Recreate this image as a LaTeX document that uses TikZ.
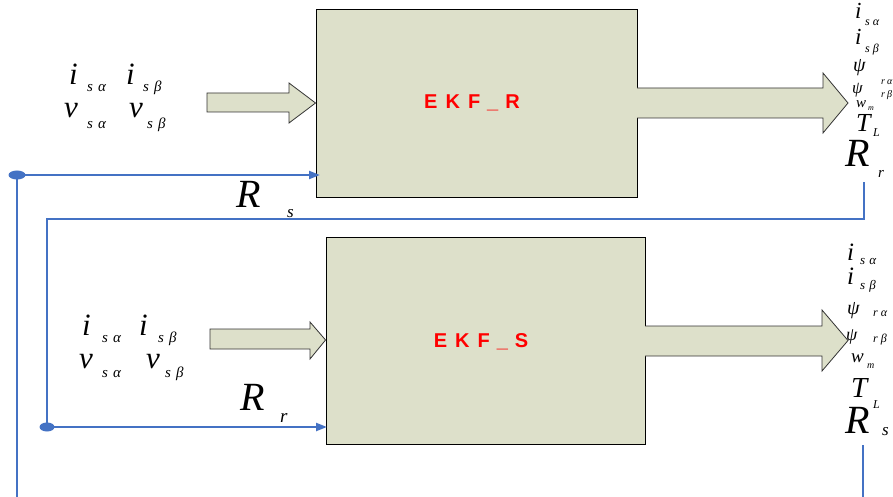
\documentclass[tikz,border=0pt]{standalone}
\usepackage{fontspec}
\setmainfont{Liberation Serif}
\newfontfamily\ekffont{Liberation Sans}
\usetikzlibrary{arrows.meta}
\newcommand{\fsz}[1]{\fontsize{#1}{#1}\selectfont\itshape}
\definecolor{boxfill}{RGB}{221,224,202}
\definecolor{linkblue}{RGB}{68,114,196}
\definecolor{ekfred}{RGB}{255,0,0}
\tikzset{
  lbl/.style={inner sep=0pt, anchor=base west},
  ekfbox/.style={draw=black, line width=0.9pt, fill=boxfill, inner sep=0pt},
  blockarrow/.style={fill=boxfill},
  blockedge/.style={draw=black!80, line width=0.8pt, line join=miter},
  link/.style={draw=linkblue, line width=2.2pt},
  linkarrow/.style={link, -{Triangle[length=11pt,width=8pt]}},
  ekftext/.style={text=ekfred, font={\ekffont\bfseries\fontsize{20}{20}\selectfont}, inner sep=0pt, anchor=base}
}
\begin{document}
\begin{tikzpicture}[x=1pt,y=-1pt]
\useasboundingbox (0,0) rectangle (893,497);
% boxes
\node[ekfbox, minimum width=321pt, minimum height=188pt] (boxR) at (476.5,103) {};
\node[ekfbox, minimum width=319pt, minimum height=207pt] (boxS) at (485.5,340.5) {};
\node[ekftext] (tR) at (472,109) {E\hspace{8pt}K\hspace{8pt}F\hspace{7pt}\_\hspace{7pt}R};
\node[ekftext] (tS) at (481,347) {E\hspace{8pt}K\hspace{8pt}F\hspace{7pt}\_\hspace{7pt}S};
% block arrows: top input
\filldraw[blockarrow, blockedge] (207,93) -- (289,93) -- (289,83) -- (boxR.west |- 0,103) -- (289,123) -- (289,112) -- (207,112) -- cycle;
% top output
\fill[blockarrow] (636,88) -- (823,88) -- (823,73) -- (848,103) -- (823,133) -- (823,118) -- (636,118) -- cycle;
\draw[blockedge] (637,88) -- (823,88) -- (823,73) -- (848,103) -- (823,133) -- (823,118) -- (637,118);
% bottom input
\filldraw[blockarrow, blockedge] (210,329) -- (310,329) -- (310,322) -- (boxS.west |- 0,340) -- (310,359) -- (310,349) -- (210,349) -- cycle;
% bottom output
\fill[blockarrow] (644,326) -- (822,326) -- (822,310) -- (848,340.5) -- (822,371) -- (822,356) -- (644,356) -- cycle;
\draw[blockedge] (645,326) -- (822,326) -- (822,310) -- (848,340.5) -- (822,371) -- (822,356) -- (645,356);
% blue links
\coordinate (dot1) at (17,175);
\coordinate (low1) at (17,497);
\coordinate (endR) at (320,175);
\coordinate (rtop) at (864,182);
\coordinate (rturn) at (864,219);
\coordinate (lturn) at (47,219);
\coordinate (dot2) at (47,427);
\coordinate (endS) at (327,427);
\coordinate (rbot1) at (863,445);
\coordinate (rbot2) at (863,497);
\draw[link] (low1) -- (dot1);
\draw[linkarrow] (dot1) -- (endR);
\draw[link, line join=miter] (rtop) -- (rturn) -- (lturn) -- (dot2);
\draw[linkarrow] (dot2) -- (endS);
\draw[link] (rbot1) -- (rbot2);
\fill[linkblue] (dot1) ellipse (8.5pt and 4.5pt);
\fill[linkblue] (dot2) ellipse (7.5pt and 4.5pt);
% top inputs
\node[lbl, font={\fsz{31}}] (a1) at (69,85) {i};
\node[lbl, font={\fsz{15}}] (a2) at (87,92) {s\hspace{5pt}α};
\node[lbl, font={\fsz{31}}] (a3) at (126,85) {i};
\node[lbl, font={\fsz{15}}] (a4) at (143,92) {s\hspace{5pt}β};
\node[lbl, font={\fsz{31}}] (a5) at (64,118) {v};
\node[lbl, font={\fsz{15}}] (a6) at (87,129) {s\hspace{5pt}α};
\node[lbl, font={\fsz{31}}] (a7) at (129,118) {v};
\node[lbl, font={\fsz{15}}] (a8) at (147,129) {s\hspace{5pt}β};
% bottom inputs
\node[lbl, font={\fsz{31}}] (b1) at (82,335) {i};
\node[lbl, font={\fsz{15}}] (b2) at (102,342) {s\hspace{5pt}α};
\node[lbl, font={\fsz{31}}] (b3) at (139,335) {i};
\node[lbl, font={\fsz{15}}] (b4) at (158,342) {s\hspace{5pt}β};
\node[lbl, font={\fsz{31}}] (b5) at (79,368) {v};
\node[lbl, font={\fsz{15}}] (b6) at (102,377) {s\hspace{5pt}α};
\node[lbl, font={\fsz{31}}] (b7) at (146,368) {v};
\node[lbl, font={\fsz{15}}] (b8) at (165,377) {s\hspace{5pt}β};
% R labels
\node[lbl, font={\fsz{40}}] (rs1) at (236,207) {R};
\node[lbl, font={\fsz{17}}] (rs2) at (287,217) {s};
\node[lbl, font={\fsz{40}}] (rr1) at (240,410) {R};
\node[lbl, font={\fsz{19}}] (rr2) at (280,422) {r};
% top outputs
\node[lbl, font={\fsz{23}}] (c1) at (855,19) {i};
\node[lbl, font={\fsz{12}}] (c2) at (865,26) {s\hspace{3pt}α};
\node[lbl, font={\fsz{23}}] (c3) at (855,45) {i};
\node[lbl, font={\fsz{12}}] (c4) at (865,53) {s\hspace{3pt}β};
\node[lbl, font={\fsz{20}}] (c5) at (853,72) {ψ};
\node[lbl, font={\fsz{10}}] (c6) at (881,85) {r\hspace{2pt}α};
\node[lbl, font={\fsz{17}}] (c7) at (852,94) {ψ};
\node[lbl, font={\fsz{10}}] (c8) at (881,98) {r\hspace{2pt}β};
\node[lbl, font={\fsz{15}}] (c9) at (856,108) {w};
\node[lbl, font={\fsz{8}}] (c10) at (868,111) {m};
\node[lbl, font={\fsz{26}}] (c11) at (856,132) {T};
\node[lbl, font={\fsz{12}}] (c12) at (873,137) {L};
\node[lbl, font={\fsz{40}}] (c13) at (845,167) {R};
\node[lbl, font={\fsz{15}}] (c14) at (878,178) {r};
% bottom outputs
\node[lbl, font={\fsz{25}}] (d1) at (847,260) {i};
\node[lbl, font={\fsz{13}}] (d2) at (860,264) {s\hspace{4pt}α};
\node[lbl, font={\fsz{25}}] (d3) at (847,284) {i};
\node[lbl, font={\fsz{13}}] (d4) at (860,289) {s\hspace{4pt}β};
\node[lbl, font={\fsz{20}}] (d5) at (847,314) {ψ};
\node[lbl, font={\fsz{12}}] (d6) at (873,316) {r\hspace{3pt}α};
\node[lbl, font={\fsz{18}}] (d7) at (846,340) {ψ};
\node[lbl, font={\fsz{12}}] (d8) at (873,342) {r\hspace{3pt}β};
\node[lbl, font={\fsz{19}}] (d9) at (851,362) {w};
\node[lbl, font={\fsz{10}}] (d10) at (867,368) {m};
\node[lbl, font={\fsz{29}}] (d11) at (851,397) {T};
\node[lbl, font={\fsz{12}}] (d12) at (873,408) {L};
\node[lbl, font={\fsz{40}}] (d13) at (845,433) {R};
\node[lbl, font={\fsz{17}}] (d14) at (882,435) {s};
\end{tikzpicture}
\end{document}
